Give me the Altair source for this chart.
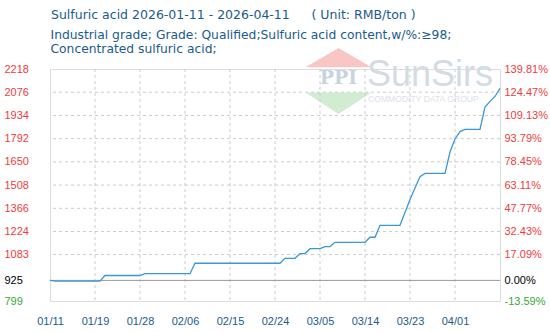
import altair as alt
import pandas as pd

# ---- data -------------------------------------------------------------
# daily price index (day 0 = left edge of the chart)
prices = [925] + [920] * 10 + [955] * 8 + [966] * 10 + [1030] * 18 + [1060] * 3 \
    + [1089] * 2 + [1119] * 3 + [1132] * 2 + [1158] * 7 + [1189] * 2 + [1262] * 5 \
    + [1340, 1420, 1490, 1560] + [1579] * 5 + [1710, 1790, 1835] + [1849] * 4 \
    + [1985, 2020, 2050, 2100]
days = list(range(len(prices)))

x_tick_days = [0, 9, 18, 27, 36, 45, 54, 63, 72, 81]
x_tick_labels = ["01/11", "01/19", "01/28", "02/06", "02/15", "02/24",
                 "03/05", "03/14", "03/23", "04/01"]

y_ticks = [2218, 2076, 1934, 1792, 1650, 1508, 1366, 1224, 1083, 925, 799]
pct_labels = ["139.81%", "124.47%", "109.13%", "93.79%", "78.45%", "63.11%",
              "47.77%", "32.43%", "17.09%", "0.00%", "-13.59%"]
base_value = 925

title_main = "Sulfuric acid 2026-01-11 - 2026-04-11"
title_unit = "( Unit: RMB/ton )"
subtitle_lines = ["Industrial grade; Grade: Qualified;Sulfuric acid content,w/%:\u226598;",
                  "Concentrated sulfuric acid;"]

# ---- tables -----------------------------------------------------------
df = pd.DataFrame({"day": days, "price": prices})
xgrid = pd.DataFrame({"day": x_tick_days[1:]})
ygrid = pd.DataFrame({"price": [v for v in y_ticks if v not in (y_ticks[0], y_ticks[-1], base_value)]})
ybase = pd.DataFrame({"price": [base_value]})
one = pd.DataFrame({"k": [0]})

XS = alt.Scale(domain=[0, 90], nice=False, zero=False)
YS = alt.Scale(domain=[y_ticks[-1], y_ticks[0]], nice=False, zero=False)

RED = "#f03c3c"
GREEN = "#33aa33"
BLUE_TXT = "#1a5b8c"
LABEL_FONT = "Liberation Sans"
TITLE_FONT = "DejaVu Sans"

label_color = {
    "condition": [
        {"test": f"datum.value == {base_value}", "value": "#000000"},
        {"test": f"datum.value == {y_ticks[-1]}", "value": GREEN},
    ],
    "value": RED,
}

x_label_expr = "[" + ",".join(f"'{s}'" for s in x_tick_labels) + "][round(datum.value/9)]"
pct_expr = ("[" + ",".join(f"'{s}'" for s in pct_labels) + "][indexof(["
            + ",".join(str(v) for v in y_ticks) + "], datum.value)]")

X_AXIS = alt.Axis(
    values=x_tick_days, labelExpr=x_label_expr, ticks=False, domain=False, grid=False,
    labelPadding=14, labelFont=LABEL_FONT, labelFontSize=11, labelColor=BLUE_TXT,
    labelFlush=False, labelOverlap=False, title=None)


def label(text, x, y, size):
    return alt.Chart(one).mark_text(
        text=text, font=TITLE_FONT, fontSize=size, color=BLUE_TXT,
        align="left", baseline="alphabetic"
    ).encode(x=alt.value(x), y=alt.value(y))


titles = [
    label(title_main, 1, -49.7, 12.5),
    label(title_unit, 261.5, -49.7, 12.5),
    label(subtitle_lines[0], 0.5, -29.7, 12.3),
    label(subtitle_lines[1], 0.5, -16.3, 12.3),
]

# ---- watermark --------------------------------------------------------
pink = alt.Chart(one).mark_point(
    shape="M0,-1L1,-0.42L-1,-0.42Z", filled=True, color="#f9c6c6", opacity=1, size=4356
).encode(x=alt.value(288.5), y=alt.value(12))
green = alt.Chart(one).mark_point(
    shape="M-1,0.35L1,0.35L0,1Z", filled=True, color="#d2ecd2", opacity=1, size=4356
).encode(x=alt.value(288.5), y=alt.value(12))
ppi = alt.Chart(one).mark_text(
    text="PPI", font="DejaVu Serif", fontSize=19, fontWeight="bold", color="#c9d3e0",
    align="center", baseline="middle"
).encode(x=alt.value(288.5), y=alt.value(9))
sunsirs = alt.Chart(one).mark_text(
    text="SunSirs", font="Liberation Sans", fontSize=36, color="#d3dbe3",
    align="left", baseline="alphabetic"
).encode(x=alt.value(317), y=alt.value(17))
cdg = alt.Chart(one).mark_text(
    text="COMMODITY DATA GROUP", font="Liberation Sans", fontSize=8.6, color="#dbe1e8",
    align="left", baseline="alphabetic"
).encode(x=alt.value(318), y=alt.value(33))

# ---- grid -------------------------------------------------------------
vgrid = alt.Chart(xgrid).mark_rule(color="#cccccc", strokeDash=[3, 3], strokeWidth=1).encode(
    x=alt.X("day:Q", scale=XS, axis=X_AXIS)
)
hgrid = alt.Chart(ygrid).mark_rule(color="#cccccc", strokeDash=[3, 3], strokeWidth=1).encode(
    y=alt.Y("price:Q", scale=YS, axis=None)
)
hbase = alt.Chart(ybase).mark_rule(color="#999999", strokeWidth=1).encode(
    y=alt.Y("price:Q", scale=YS, axis=alt.Axis(
        orient="right", values=y_ticks, labelExpr=pct_expr, ticks=False, domain=False,
        grid=False, labelPadding=4, labelAlign="left", labelBaseline="middle",
        labelFont=LABEL_FONT, labelFontSize=11, labelColor=label_color,
        labelFlush=False, labelOverlap=False, title=None))
)

# ---- line -------------------------------------------------------------
line = alt.Chart(df).mark_line(color="#3a98d8", strokeWidth=1.3, interpolate="linear").encode(
    x=alt.X("day:Q", scale=XS, axis=X_AXIS),
    y=alt.Y("price:Q", scale=YS, axis=alt.Axis(
        orient="left", values=y_ticks, format="d", ticks=False, domain=False, grid=False,
        labelPadding=46, labelAlign="left", labelBaseline="middle",
        labelFont=LABEL_FONT, labelFontSize=11, labelColor=label_color,
        labelFlush=False, labelOverlap=False, title=None)),
)

chart = alt.layer(pink, green, ppi, sunsirs, cdg, vgrid, hgrid, hbase, line, *titles).resolve_scale(
    y="independent"
).properties(
    width=450,
    height=232,
    autosize="none",
    padding={"left": 50, "top": 69, "right": 50, "bottom": 31},
).configure_view(stroke="#999999", strokeWidth=1).configure(background="white")

chart.save("out.html", embed_options={"renderer": "svg", "actions": False})
